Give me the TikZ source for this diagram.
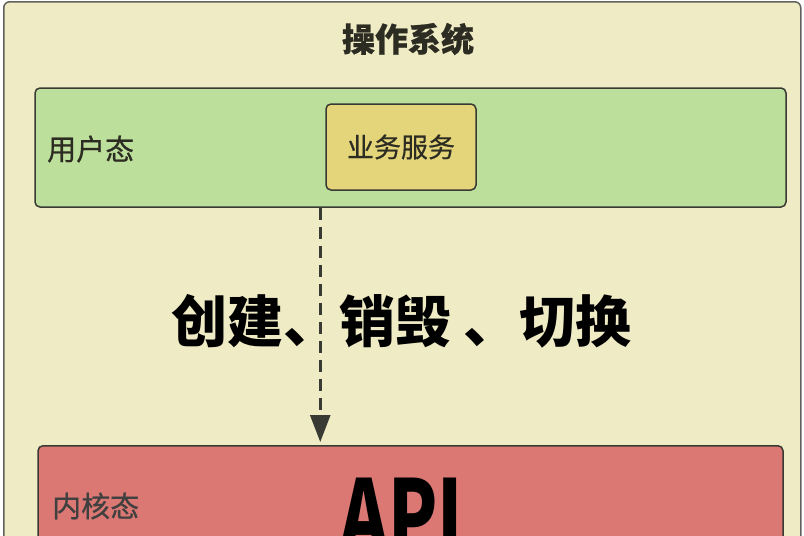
\documentclass[tikz,border=0pt]{standalone}
\usepackage{fontspec}
\newfontfamily\cjk[FakeBold=0.6]{Noto Sans CJK SC}
\newfontfamily\cjkheavy{Noto Sans CJK SC Black}
\usetikzlibrary{arrows.meta,positioning}
\definecolor{oscream}{RGB}{239,235,197}
\definecolor{osgreen}{RGB}{188,223,155}
\definecolor{osyellow}{RGB}{228,213,122}
\definecolor{osred}{RGB}{219,120,115}
\definecolor{osline}{RGB}{58,58,52}
\definecolor{ostext}{RGB}{44,44,34}

\begin{document}
\begin{tikzpicture}[x=1pt, y=-1pt,
    layer/.style={draw=osline, line width=1.5pt, rounded corners=5pt,
                  minimum width=751pt, inner sep=0pt},
    lbl/.style={font=\cjk\fontsize{29}{29}\selectfont, text=ostext,
                anchor=west, inner sep=0pt}
  ]
    \clip (0,0) rectangle (804,536);
    \fill[white] (0,0) rectangle (804,536);

    % Outer frame: operating system
    \node[draw=osline!80, line width=1.5pt, fill=oscream, rounded corners=6pt,
          minimum width=797pt, minimum height=600pt, inner sep=0pt,
          anchor=north west] (os) at (3,1) {};
    \node[font=\cjk\bfseries\fontsize{33}{33}\selectfont, text=ostext] (title) at (408,39) {操作系统};

    % Box 1: user mode
    \node[layer, fill=osgreen, minimum height=119pt] (user) at (410.5,147.5) {};
    \node[lbl] (userlbl) at (47,149) {用户态};
    \node[draw=osline, line width=1.5pt, fill=osyellow, rounded corners=5pt,
          minimum width=150pt, minimum height=86pt, text=ostext,
          font=\cjk\fontsize{27}{27}\selectfont] (svc) at (401,147) {业务服务};

    % Box 2: kernel mode
    \node[layer, fill=osred, minimum width=745pt, minimum height=200pt,
          anchor=north] (kernel) at (410.5,445) {};
    \node[lbl, text=black!75] (kernlbl) at (52,506) {内核态};
    \node[anchor=base, inner sep=0pt] (api) at (402,552)
      {\scalebox{0.72}[1]{\cjkheavy\fontsize{100}{100}\selectfont API}};

    % Dashed arrow from user mode down to kernel mode
    \draw[osline, line width=2.6pt, dash pattern=on 12pt off 7pt,
          -{Triangle[length=27pt,width=20pt]}, shorten >=3pt]
      ([xshift=-5pt]svc.west |- user.south) -- ([xshift=-5pt]svc.west |- kernel.north);
    \node[font=\cjkheavy\fontsize{56}{56}\selectfont] (ops) at (401.5,321) {创建、销毁 、切换};
\end{tikzpicture}
\end{document}
